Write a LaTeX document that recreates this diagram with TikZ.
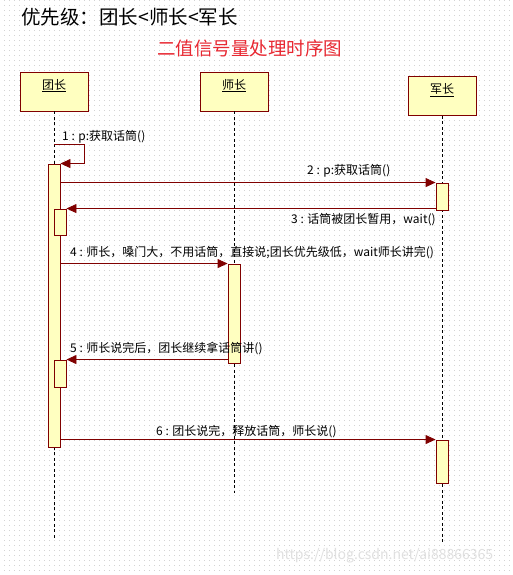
\documentclass[tikz,border=0pt]{standalone}
\usepackage{fontspec}
\setmainfont{Noto Sans CJK SC}
\usetikzlibrary{arrows.meta,patterns}
\definecolor{seqline}{RGB}{128,0,0}
\definecolor{boxfill}{RGB}{255,255,192}
\definecolor{titlered}{RGB}{232,40,50}
\definecolor{dotgray}{RGB}{212,212,212}
\pgfdeclarepatternformonly{griddots}{\pgfpointorigin}{\pgfpoint{5pt}{5pt}}{\pgfpoint{5pt}{5pt}}{%
  \pgfpathrectangle{\pgfpointorigin}{\pgfpoint{1pt}{1pt}}\pgfusepath{fill}}
\tikzset{
  objbox/.style={draw=seqline, fill=boxfill, line width=0.9pt, minimum width=68pt, minimum height=39pt, inner sep=0pt},
  actbox/.style={draw=seqline, fill=boxfill, line width=0.9pt, minimum width=12pt, inner sep=0pt},
  lifeline/.style={draw=black, line width=0.7pt, dash pattern=on 3pt off 2.5pt},
  msg/.style={draw=seqline, line width=0.9pt, -{Triangle[length=10pt,width=9pt]}},
  msglabel/.style={anchor=west, inner sep=0pt, font=\fontsize{12}{14}\selectfont},
  objlabel/.style={font=\fontsize{12}{14}\selectfont}
}
\begin{document}
\begin{tikzpicture}[x=1pt,y=-1pt]
\useasboundingbox (0,0) rectangle (513,575);
\fill[white] (0,0) rectangle (513,575);
\fill[pattern=griddots, pattern color=dotgray] (0,0) rectangle (513,575);

% titles
\node[anchor=west, inner sep=0pt, font=\fontsize{19.5}{22}\selectfont] (prio) at (21,17) {优先级：团长<师长<军长};
\node[anchor=west, inner sep=0pt, text=titlered, font=\fontsize{18.5}{22}\selectfont] (title) at (157,48) {二值信号量处理时序图};

% object boxes
\node[objbox, label={[objlabel, anchor=north, yshift=-4pt]north:\underline{团长}}] (tuan) at (54,91.5) {};
\node[objbox, label={[objlabel, anchor=north, yshift=-4pt]north:\underline{师长}}] (shi) at (234,91.5) {};
\node[objbox, label={[objlabel, anchor=north, yshift=-4pt]north:\underline{军长}}] (jun) at (442,96) {};

% lifeline ends
\coordinate (tuanend) at (54,540);
\coordinate (shiend) at (234,493);
\coordinate (junend) at (442,543);
\draw[lifeline] (tuan.south) -- (tuanend);
\draw[lifeline] (shi.south) -- (shiend);
\draw[lifeline] (jun.south) -- (junend);

% activations
\node[actbox, minimum height=283pt] (A0) at (54,305.5) {};
\node[actbox, minimum height=26pt] (A1) at (60,222) {};
\node[actbox, minimum height=27pt] (A2) at (60,373.5) {};
\node[actbox, minimum height=99pt] (S1) at (234,313.5) {};
\node[actbox, minimum height=27pt] (J1) at (442,196.5) {};
\node[actbox, minimum height=43pt] (J2) at (442,461.5) {};

% message 1 (self call)
\coordinate (m1s) at (54,144);
\coordinate (m1c) at (84,144);
\draw[msg] (m1s) -- (m1c) |- (A0.north east);
\node[msglabel] (l1) at (62,137) {1 : p:获取话筒()};

% message 2
\draw[msg] (A0.east |- J1.north) -- (J1.north west);
\node[msglabel] (l2) at (307,171) {2 : p:获取话筒()};

% message 3
\draw[msg] (J1.west |- A1.north) -- (A1.north east);
\node[msglabel] (l3) at (291,220) {3 : 话筒被团长暂用，wait()};

% message 4
\draw[msg] (A0.east |- S1.north) -- (S1.north west);
\node[msglabel] (l4) at (70,253) {4 : 师长，嗓门大，不用话筒，直接说;团长优先级低，wait师长讲完()};

% message 5
\draw[msg] (S1.west |- A2.north) -- (A2.north east);
\node[msglabel] (l5) at (70,349) {5 : 师长说完后，团长继续拿话筒讲()};

% message 6
\draw[msg] (A0.east |- J2.north) -- (J2.north west);
\node[msglabel] (l6) at (156,432) {6 : 团长说完，释放话筒，师长说()};

% watermark
\node[anchor=west, inner sep=0pt, text=black!12, font=\fontsize{14}{16}\selectfont] (wm) at (276,556) {https://blog.csdn.net/ai88866365};
\end{tikzpicture}
\end{document}
